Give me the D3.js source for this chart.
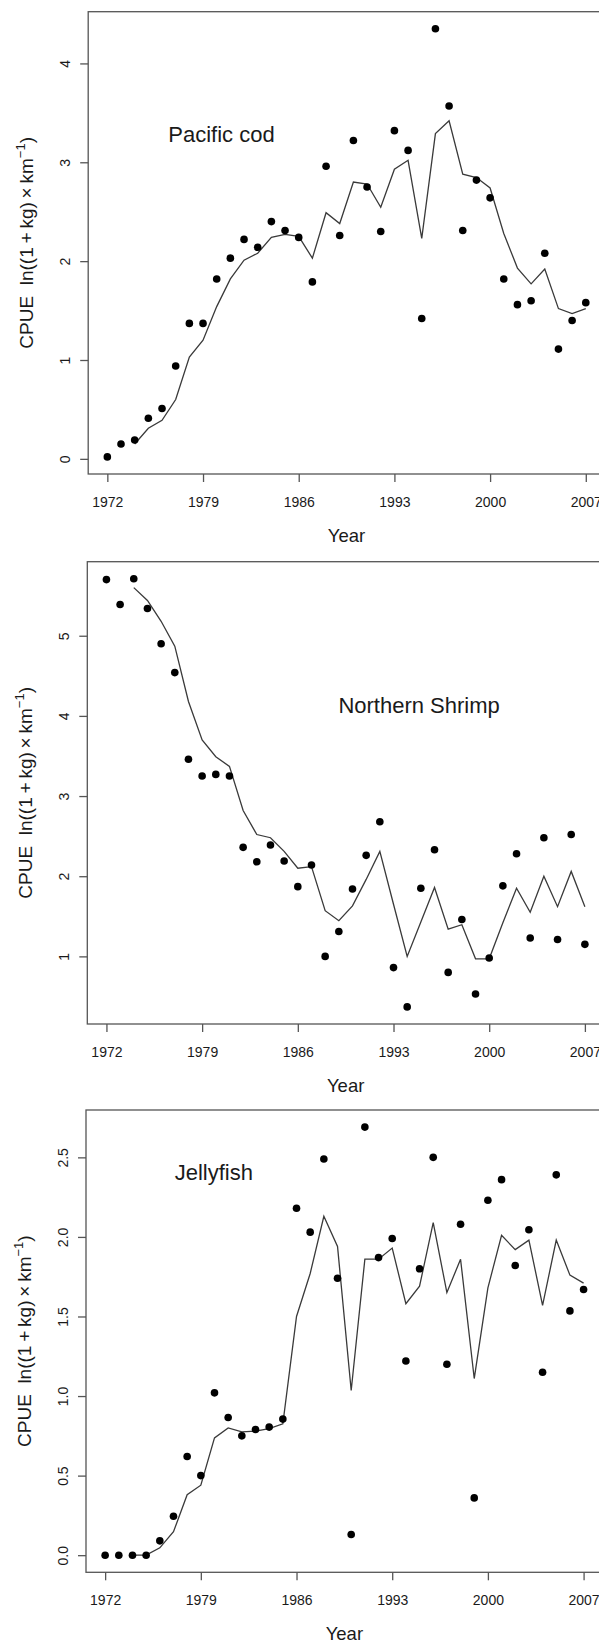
<!DOCTYPE html>
<html>
<head>
<meta charset="utf-8">
<script src="https://cdn.jsdelivr.net/npm/d3@7/dist/d3.min.js"></script>
<style>
  body { margin: 0; background: #fff; }
  svg { display: block; }
  text { font-family: "Liberation Sans", Arial, Helvetica, sans-serif; fill: #1a1a1a; }
</style>
</head>
<body>
<svg id="chart" width="599" height="1643"></svg>
<script>
// Survey years (observed CPUE) and the years covered by the fitted model
const years = [1972, 1973, 1974, 1975, 1976, 1977, 1978, 1979, 1980, 1981, 1982, 1983,
               1984, 1985, 1986, 1987, 1988, 1989, 1990, 1991, 1992, 1993, 1994, 1995,
               1996, 1997, 1998, 1999, 2000, 2001, 2002, 2003, 2004, 2005, 2006, 2007];
const fitYears = [1974, 1975, 1976, 1977, 1978, 1979, 1980, 1981, 1982, 1983, 1984, 1985,
                  1986, 1987, 1988, 1989, 1990, 1991, 1992, 1993, 1994, 1995, 1996, 1997,
                  1998, 1999, 2000, 2001, 2002, 2003, 2004, 2005, 2006, 2007];
const yearTicks = [1972, 1979, 1986, 1993, 2000, 2007];

// Pacific cod
const codObs = [0.02, 0.15, 0.19, 0.41, 0.51, 0.94, 1.37, 1.37, 1.82, 2.03, 2.22, 2.14,
                2.40, 2.31, 2.24, 1.79, 2.96, 2.26, 3.22, 2.75, 2.30, 3.32, 3.12, 1.42,
                4.35, 3.57, 2.31, 2.82, 2.64, 1.82, 1.56, 1.60, 2.08, 1.11, 1.40, 1.58];
const codFit = [0.15, 0.31, 0.39, 0.60, 1.03, 1.20, 1.54, 1.82, 2.01, 2.08, 2.24, 2.27,
                2.25, 2.03, 2.49, 2.38, 2.80, 2.78, 2.545, 2.93, 3.02, 2.23, 3.29, 3.42,
                2.88, 2.845, 2.74, 2.28, 1.93, 1.77, 1.92, 1.52, 1.47, 1.52];
const codTicks = [0, 1, 2, 3, 4];

// Northern shrimp
const shrimpObs = [5.70, 5.39, 5.71, 5.34, 4.90, 4.54, 3.46, 3.25, 3.27, 3.25, 2.36, 2.18,
                   2.39, 2.19, 1.87, 2.14, 1.00, 1.31, 1.84, 2.26, 2.68, 0.86, 0.37, 1.85,
                   2.33, 0.80, 1.46, 0.53, 0.98, 1.88, 2.28, 1.23, 2.48, 1.21, 2.52, 1.15];
const shrimpFit = [5.60, 5.44, 5.18, 4.87, 4.18, 3.70, 3.49, 3.37, 2.82, 2.52, 2.48, 2.31,
                   2.10, 2.12, 1.57, 1.445, 1.63, 1.96, 2.31, 1.65, 1.00, 1.43, 1.86, 1.34,
                   1.395, 0.97, 0.97, 1.42, 1.85, 1.55, 2.00, 1.62, 2.06, 1.62];
const shrimpTicks = [1, 2, 3, 4, 5];

// Jellyfish
const jellyObs = [0.00, 0.00, 0.00, 0.00, 0.09, 0.245, 0.62, 0.50, 1.02, 0.865, 0.75, 0.79,
                  0.805, 0.855, 2.18, 2.03, 2.49, 1.74, 0.13, 2.69, 1.87, 1.99, 1.22, 1.80,
                  2.50, 1.20, 2.08, 0.36, 2.23, 2.36, 1.82, 2.045, 1.15, 2.39, 1.535, 1.67];
const jellyFit = [0.00, 0.00, 0.046, 0.147, 0.38, 0.44, 0.737, 0.80, 0.775, 0.78, 0.795, 0.826,
                  1.50, 1.77, 2.13, 1.94, 1.035, 1.86, 1.86, 1.93, 1.58, 1.69, 2.09, 1.65,
                  1.86, 1.11, 1.68, 2.01, 1.92, 1.98, 1.57, 1.98, 1.76, 1.71];
const jellyTicks = [0, 0.5, 1, 1.5, 2, 2.5];

const panelNames = ["Pacific cod", "Northern Shrimp", "Jellyfish"];

// Layout of the three stacked panels (plot box edges, species label anchor in data units)
const panels = [
  { name: panelNames[0], obs: codObs, fit: codFit, ticks: codTicks, fmt: d3.format("d"),
    left: 88.2, top: 11.7, bottom: 474, labelAt: [1980.35, 3.21] },
  { name: panelNames[1], obs: shrimpObs, fit: shrimpFit, ticks: shrimpTicks, fmt: d3.format("d"),
    left: 87.3, top: 561.7, bottom: 1024, labelAt: [1994.87, 4.03] },
  { name: panelNames[2], obs: jellyObs, fit: jellyFit, ticks: jellyTicks, fmt: d3.format(".1f"),
    left: 86.0, top: 1110, bottom: 1572.3, labelAt: [1979.95, 2.357] }
];

const pxPerYear = 13.67;
const boxColor = "#555";
const svg = d3.select("#chart");

// R-style 4% padding of a numeric extent
function padded(ext) {
  const r = ext[1] - ext[0];
  return [ext[0] - 0.04 * r, ext[1] + 0.04 * r];
}

panels.forEach(p => {
  const xDom = padded(d3.extent(years));
  const width = (xDom[1] - xDom[0]) * pxPerYear;
  const x = d3.scaleLinear().domain(xDom).range([p.left, p.left + width]);
  const y = d3.scaleLinear()
    .domain(padded(d3.extent(p.obs.concat(p.fit))))
    .range([p.bottom, p.top]);

  const g = svg.append("g");

  // Plot frame
  g.append("rect")
    .attr("x", p.left).attr("y", p.top)
    .attr("width", width).attr("height", p.bottom - p.top)
    .attr("fill", "none").attr("stroke", boxColor).attr("stroke-width", 1.3);

  // X axis ticks and labels
  const xAxis = g.append("g").attr("transform", `translate(0,${p.bottom})`)
    .call(d3.axisBottom(x).tickValues(yearTicks).tickFormat(d3.format("d")).tickSize(8).tickPadding(0));
  xAxis.select(".domain").remove();
  xAxis.selectAll(".tick line").attr("stroke", boxColor).attr("stroke-width", 1.3);
  xAxis.selectAll(".tick text")
    .attr("dy", null).attr("y", 33)
    .style("font-family", "'Liberation Sans', Arial, sans-serif")
    .style("font-size", "14px").attr("fill", "#1a1a1a");

  // Y axis ticks and rotated labels
  const yAxis = g.append("g").attr("transform", `translate(${p.left},0)`)
    .call(d3.axisLeft(y).tickValues(p.ticks).tickFormat(p.fmt).tickSize(8));
  yAxis.select(".domain").remove();
  yAxis.selectAll(".tick line").attr("stroke", boxColor).attr("stroke-width", 1.3);
  yAxis.selectAll(".tick text")
    .attr("x", null).attr("dy", null)
    .attr("text-anchor", "middle")
    .attr("transform", "translate(-18,0) rotate(-90)")
    .style("font-family", "'Liberation Sans', Arial, sans-serif")
    .style("font-size", "14px").attr("fill", "#1a1a1a");

  // Fitted model line
  const line = d3.line().x((d, i) => x(fitYears[i])).y(d => y(d));
  g.append("path").datum(p.fit)
    .attr("d", line)
    .attr("fill", "none").attr("stroke", "#3a3a3a").attr("stroke-width", 1.3)
    .attr("stroke-linejoin", "miter");

  // Observed CPUE points
  g.selectAll("circle.obs").data(p.obs).join("circle")
    .attr("class", "obs")
    .attr("cx", (d, i) => x(years[i]))
    .attr("cy", d => y(d))
    .attr("r", 3.8)
    .attr("fill", "#000");

  // Species label
  g.append("text")
    .attr("x", x(p.labelAt[0])).attr("y", y(p.labelAt[1]))
    .attr("text-anchor", "middle")
    .style("font-size", "22px")
    .text(p.name);

  // X axis title
  g.append("text")
    .attr("x", p.left + width / 2).attr("y", p.bottom + 68)
    .attr("text-anchor", "middle")
    .style("font-size", "18.5px")
    .text("Year");

  // Y axis title: CPUE  ln((1 + kg) × km^-1)
  const yt = g.append("text")
    .attr("transform", `translate(${p.left - 55.5},${(p.top + p.bottom) / 2}) rotate(-90)`)
    .attr("text-anchor", "middle")
    .style("font-size", "19px");
  yt.append("tspan").text("CPUE\u00a0\u00a0ln((1\u2009+\u2009kg)\u2009\u00d7\u2009km");
  yt.append("tspan").attr("dy", -8).style("font-size", "13px").text("\u22121");
  yt.append("tspan").attr("dy", 8).text(")");
});
</script>
</body>
</html>
